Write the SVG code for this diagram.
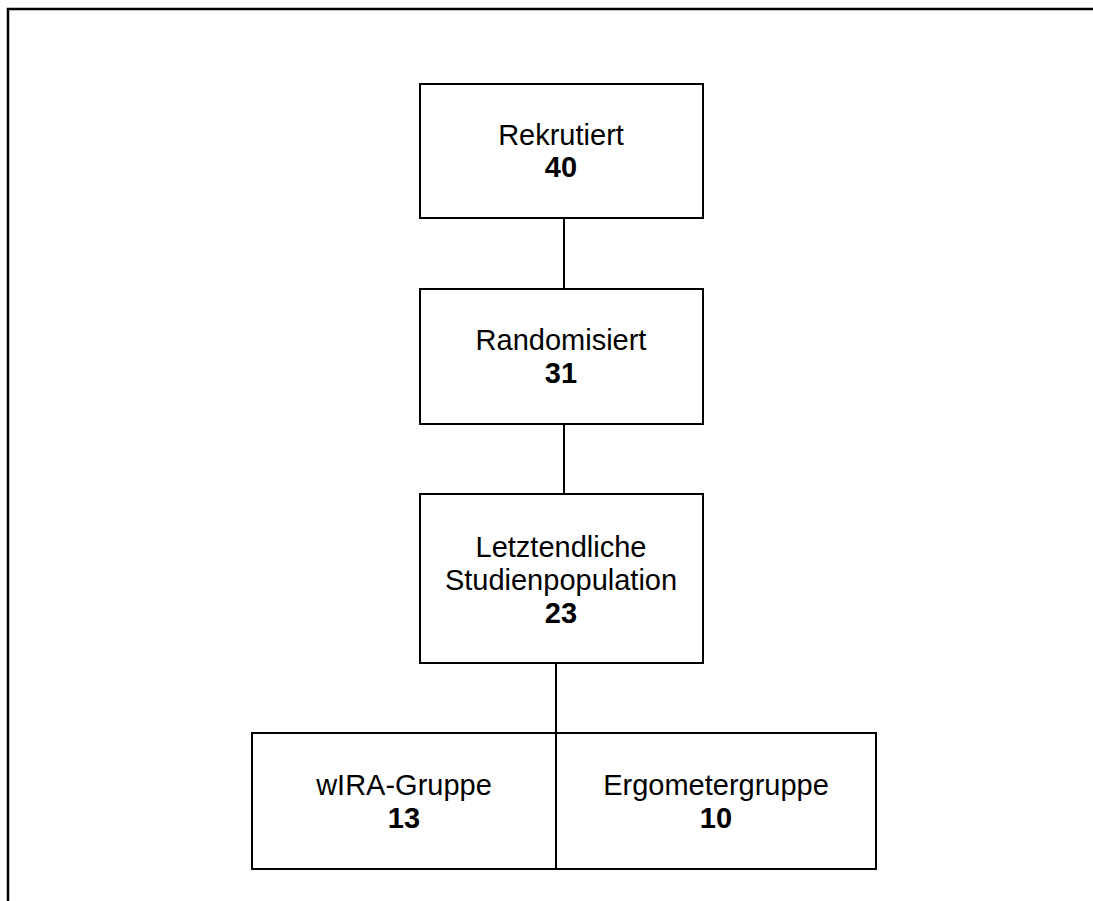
<svg xmlns="http://www.w3.org/2000/svg" width="1093" height="901" viewBox="0 0 1093 901">
<style>
.box{fill:#fff;stroke:#000;stroke-width:2}
.lbl{font-family:"Liberation Sans",Arial,sans-serif;font-size:29px;fill:#000;text-anchor:middle}
.num{font-weight:bold}
.con{stroke:#000;stroke-width:2;fill:none}
</style>
<rect width="1093" height="901" fill="#fff"/>
<path d="M8,901 V9 H1093" fill="none" stroke="#000" stroke-width="2.5"/>
<g id="connectors">
<line class="con" x1="564" y1="218" x2="564" y2="289"/>
<line class="con" x1="564" y1="424" x2="564" y2="494"/>
<line class="con" x1="556" y1="663" x2="556" y2="733"/>
</g>
<g id="rekrutiert">
<rect class="box" x="420" y="84" width="283" height="134"/>
<text class="lbl" x="561" y="145">Rekrutiert</text>
<text class="lbl num" x="561" y="177">40</text>
</g>
<g id="randomisiert">
<rect class="box" x="420" y="289" width="283" height="135"/>
<text class="lbl" x="561" y="350">Randomisiert</text>
<text class="lbl num" x="561" y="383">31</text>
</g>
<g id="studienpopulation">
<rect class="box" x="420" y="494" width="283" height="169"/>
<text class="lbl" x="561" y="557">Letztendliche</text>
<text class="lbl" x="561" y="590">Studienpopulation</text>
<text class="lbl num" x="561" y="623">23</text>
</g>
<g id="wira">
<rect class="box" x="252" y="733" width="304" height="136"/>
<text class="lbl" x="404" y="795">wIRA-Gruppe</text>
<text class="lbl num" x="404" y="828">13</text>
</g>
<g id="ergometer">
<rect class="box" x="556" y="733" width="320" height="136"/>
<text class="lbl" x="716" y="795">Ergometergruppe</text>
<text class="lbl num" x="716" y="828">10</text>
</g>
</svg>
